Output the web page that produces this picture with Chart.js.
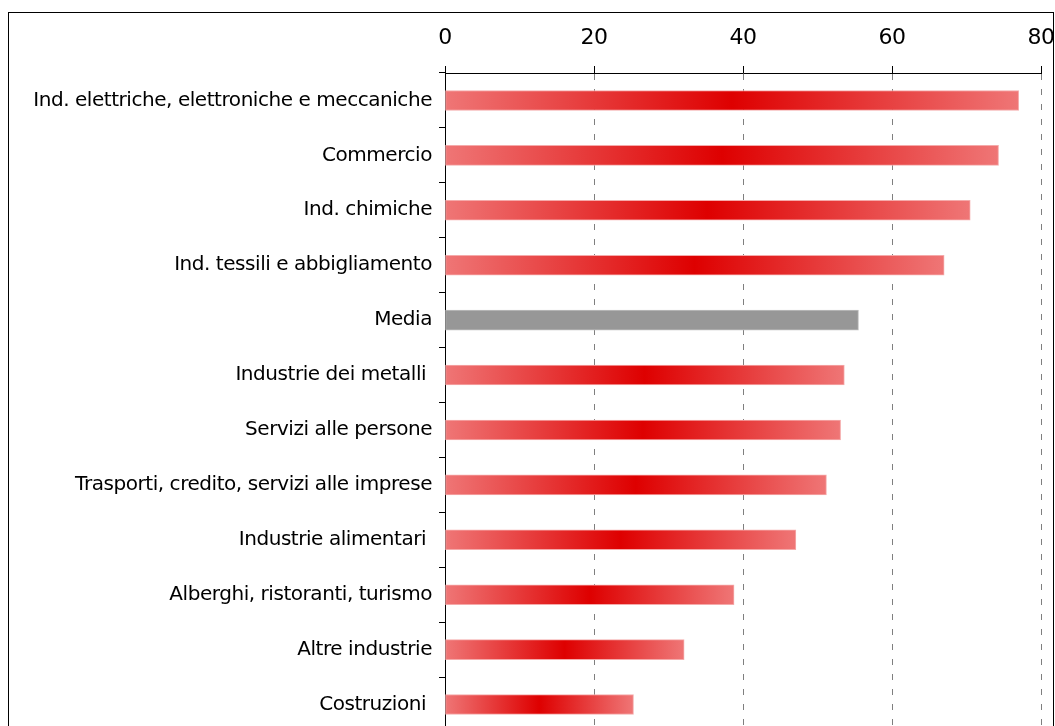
<!DOCTYPE html>
<html>
<head>
<meta charset="utf-8">
<script src="https://cdn.jsdelivr.net/npm/chart.js@4/dist/chart.umd.min.js"></script>
<style>
  html, body { margin: 0; padding: 0; background: #fff; overflow: hidden; }
  #frame {
    position: absolute; left: 8px; top: 12px;
    width: 1044px; height: 760px;
    border: 1px solid #000;
    background: #fff;
  }
  #c { position: absolute; left: 0; top: 0; }
</style>
</head>
<body>
<div id="frame"><canvas id="c" width="1044" height="730"></canvas></div>
<script>
// Sectors, in display order (top to bottom)
const categories = [
  "Ind. elettriche, elettroniche e meccaniche",
  "Commercio",
  "Ind. chimiche",
  "Ind. tessili e abbigliamento",
  "Media",
  "Industrie dei metalli ",
  "Servizi alle persone",
  "Trasporti, credito, servizi alle imprese",
  "Industrie alimentari ",
  "Alberghi, ristoranti, turismo",
  "Altre industrie",
  "Costruzioni "
];
const values = [77.0, 74.3, 70.5, 67.0, 55.5, 53.6, 53.1, 51.2, 47.1, 38.8, 32.1, 25.3];
const averageLabel = "Media";
const xTicks = [0, 20, 40, 60, 80];

const FONT = "'DejaVu Sans', sans-serif";
const LIGHT = "rgb(239,118,118)";
const DARK = "rgb(222,0,0)";
const GREY = "rgb(151,151,151)";

// Slightly tight tracking for all canvas text
const tracking = {
  id: "tracking",
  beforeUpdate(chart) { chart.ctx.letterSpacing = "-0.45px"; },
  beforeDraw(chart) { chart.ctx.letterSpacing = "-0.45px"; }
};

// Each bar fades light -> dark red (at its midpoint) -> light
function barFill(ctx) {
  const chart = ctx.chart;
  if (categories[ctx.dataIndex] === averageLabel) return GREY;
  const xs = chart.scales.x;
  if (!xs || !chart.chartArea) return DARK;
  const x0 = xs.getPixelForValue(0);
  const x1 = xs.getPixelForValue(ctx.raw);
  if (!isFinite(x0) || !isFinite(x1) || x1 <= x0) return DARK;
  const g = chart.ctx.createLinearGradient(x0, 0, x1, 0);
  g.addColorStop(0, LIGHT);
  g.addColorStop(0.5, DARK);
  g.addColorStop(1, LIGHT);
  return g;
}

new Chart(document.getElementById("c"), {
  type: "bar",
  data: {
    labels: categories,
    datasets: [{
      data: values,
      backgroundColor: barFill,
      borderColor: ctx => categories[ctx.dataIndex] === averageLabel ? "rgb(190,190,190)" : "rgb(245,170,170)",
      borderWidth: 1,
      borderSkipped: false,
      barThickness: 20
    }]
  },
  plugins: [tracking],
  options: {
    indexAxis: "y",
    responsive: false,
    animation: false,
    devicePixelRatio: 1,
    layout: { padding: { left: 0, right: 12, top: 0, bottom: 11 } },
    plugins: { legend: { display: false }, tooltip: { enabled: false } },
    scales: {
      x: {
        position: "top",
        min: 0, max: 80,
        afterBuildTicks(scale) { scale.ticks = xTicks.map(v => ({ value: v })); },
        afterFit(scale) { scale.height = 60; scale.paddingLeft = 0; scale.paddingRight = 0; },
        ticks: {
          color: "#000",
          font: { family: FONT, size: 22 },
          padding: 15,
          maxRotation: 0
        },
        border: { display: true, color: "#000", width: 1, dash: [6, 9] },
        grid: {
          color: "#7f7f7f",
          lineWidth: 1,
          drawTicks: true,
          tickLength: 7,
          tickColor: "#000",
          tickBorderDash: []
        }
      },
      y: {
        afterFit(scale) { scale.width = 436; scale.paddingTop = 0; scale.paddingBottom = 0; },
        ticks: {
          color: "#000",
          font: { family: FONT, size: 20 },
          padding: 7
        },
        border: { display: true, color: "#000", width: 1 },
        grid: {
          offset: true,
          drawOnChartArea: false,
          drawTicks: true,
          tickLength: 6,
          tickColor: "#000"
        }
      }
    }
  }
});
</script>
</body>
</html>
